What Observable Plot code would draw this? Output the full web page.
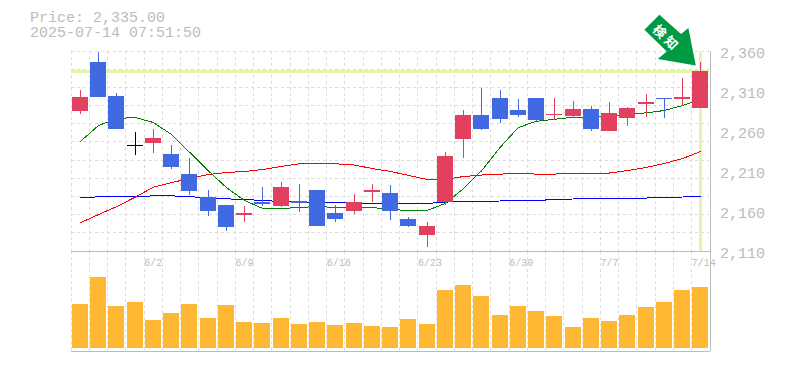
<!DOCTYPE html>
<html>
<head>
<meta charset="utf-8">
<script src="https://cdn.jsdelivr.net/npm/d3@7"></script>
<script src="https://cdn.jsdelivr.net/npm/@observablehq/plot@0.6"></script>
<style>
html,body{margin:0;padding:0;background:#fff;}
#wrap{position:relative;width:785px;height:370px;overflow:hidden;}
#wrap svg{position:absolute;left:0;top:0;}
#head{position:absolute;left:30px;top:11px;font:15px/15px "Liberation Mono",monospace;color:#bcbcbc;white-space:pre;z-index:3;}
</style>
</head>
<body>
<div id="wrap"><div id="head">Price: 2,335.00
2025-07-14 07:51:50</div></div>
<script>
const opens  = [2284.4,2345.6,2303.1,2241.5,2244.4,2230.6,2205.6,2176.9,2166.9,2154.4,2170.6,2165.6,2171.9,2185.6,2156.9,2159.4,2183.1,2181.9,2149.4,2129.4,2170.6,2249.4,2279.4,2300.6,2285.6,2300.6,2279.4,2278.1,2286.9,2259.4,2275.6,2293.1,2300.6,2299.4,2288.1];
const highs  = [2310.6,2358.1,2306.9,2258.1,2261.9,2241.9,2225.6,2185.6,2166.9,2165.6,2189.4,2195.6,2193.1,2185.6,2166.9,2180.6,2193.1,2191.9,2151.9,2145.6,2233.1,2285.6,2313.1,2310.6,2299.4,2300.6,2300.6,2296.9,2290.6,2295.6,2289.4,2305.6,2300.6,2325.6,2345.6];
const lows   = [2280.6,2301.9,2261.9,2229.7,2232.2,2211.9,2179.4,2153.1,2134.4,2145.6,2165.6,2164.4,2158.1,2140.6,2145.6,2155.6,2170.6,2148.1,2139.4,2114.4,2166.9,2225.6,2260.6,2269.4,2276.9,2271.9,2273.1,2275.6,2259.4,2259.4,2265.6,2276.9,2275.6,2290.6,2288.1];
const closes = [2301.9,2301.9,2261.9,2241.5,2250.6,2214.4,2184.4,2159.4,2139.4,2156.9,2168.1,2189.4,2169.4,2140.6,2149.4,2170.6,2185.6,2159.4,2140.6,2140.6,2228.1,2279.4,2261.9,2274.4,2279.4,2273.1,2280.6,2286.9,2261.9,2281.9,2288.1,2295.6,2299.4,2301.9,2335];
const maShort = [2246.9,2266.9,2275.6,2276.9,2270.6,2255.6,2233.1,2210.6,2189.4,2173.1,2163.1,2163.1,2164.4,2165.6,2164.4,2164.4,2164.4,2161.9,2160.6,2160.6,2169.4,2188.1,2210.6,2239.4,2264.4,2272.2,2274.7,2277.2,2277.7,2278.7,2280.6,2282.7,2285.6,2291.9,2299.4];
const maMid = [2145.2,2155.6,2165.6,2177.2,2189.7,2195.6,2200.6,2205.6,2208.1,2209.4,2211.9,2215.6,2219,2219,2219,2217.5,2213.1,2209.4,2204.4,2199.4,2199.4,2203.1,2205,2206.2,2206.5,2206.2,2206.2,2206.9,2207.5,2207.5,2210.6,2214.4,2219.4,2225.6,2234.4];
const maLong = [2176.5,2177.7,2177.7,2177.7,2179,2179,2177.7,2176.9,2175.2,2174.4,2173.1,2171.9,2171.2,2170.6,2170.2,2170,2169.4,2169,2169,2169.4,2171.2,2171.5,2171.9,2172.5,2172.7,2173.1,2174.4,2175,2175.6,2176.2,2176.2,2176.2,2176.9,2177.5,2178.1];
const volumes = [44000,71000,42000,46000,28000,35000,44000,30000,43000,26000,25000,30000,24000,26000,23000,25000,22000,21000,29000,24000,58000,63000,52000,33000,42000,37000,32000,21000,30000,27000,33000,41000,46000,58000,61000];
const dateTicks = [[4,"6/2"],[9,"6/9"],[14,"6/16"],[19,"6/23"],[24,"6/30"],[29,"7/7"],[34,"7/14"]];
const priceTicks = [2110,2160,2210,2260,2310,2360];
const lastPrice = 2335;
const gridCount = 11;

const FONT = '"Liberation Mono",monospace';
const GRAY = "#bcbcbc", GRID = "#dcdcdc", HILITE = "#e2f5aa";
const UP = "#e2405f", DOWN = "#4169e1", VOL = "#ffb833";
const n = opens.length, idx = d3.range(n);
const HALF = 0.44;
const colorOf = i => closes[i] > opens[i] ? UP : closes[i] < opens[i] ? DOWN : "#000";
const crisp = {shapeRendering:"crispEdges"};
const dash = {stroke:GRID, strokeDasharray:"3,3", ...crisp};
const gridX = d3.range(n).map(i => i - 0.5);
const gridY = d3.range(gridCount + 1).map(k => 2110 + 250 * k / gridCount);
const rightEdge = n - 0.47;
const base = {width:785, height:370, marginLeft:70.7, marginRight:75.6,
  style:{background:"transparent", overflow:"visible"}};
const xScale = {domain:[-0.5, n - 0.5], axis:null};

function badge(index, {x, y}) {
  const tx = x(n - 1) - 4.5, ty = y(lastPrice) - 5;
  const g = d3.create("svg:g");
  const shape = [[0,0],[-7.4,-37.4],[-14.7,-31.4],[-36.4,-50.7],[-51.4,-35.7],[-29,-14],[-38,-6.4]];
  g.append("polygon").attr("fill","#009a44").attr("points",shape.map(p=>[tx+p[0],ty+p[1]].join(",")).join(" "));
  [["検",-35.5,-34.5],["知",-24,-23.3]].forEach(([t,dx,dy])=>{
    g.append("text").text(t).attr("fill","#fff").attr("font-family",'"Noto Sans CJK JP"').attr("font-weight","bold")
      .attr("font-size",13).attr("text-anchor","middle").attr("dominant-baseline","central")
      .attr("transform",`translate(${tx+dx},${ty+dy}) rotate(45)`);
  });
  return g.node();
}

const pricePlot = Plot.plot({...base, marginTop:50.5, marginBottom:119.5,
  x:xScale, y:{domain:[2110,2360], label:null},
  marks:[
    Plot.ruleX(gridX, {x:d=>d, ...dash}),
    Plot.ruleY(gridY.slice(1), {y:d=>d, ...dash}),
    Plot.ruleY([lastPrice], {y:d=>d, stroke:HILITE, strokeWidth:3, ...crisp}),
    Plot.ruleX([n - 1], {x:d=>d, stroke:HILITE, strokeWidth:3, ...crisp}),
    Plot.ruleY([2110], {y:d=>d, x1:-0.5, x2:rightEdge, stroke:GRAY, ...crisp}),
    Plot.ruleX([rightEdge], {x:d=>d, stroke:GRAY, ...crisp}),
    Plot.lineY(maLong, {x:(d,i)=>i, y:d=>d, stroke:"#0000ff", strokeWidth:1, curve:"linear", ...crisp}),
    Plot.lineY(maMid, {x:(d,i)=>i, y:d=>d, stroke:"#ff0000", strokeWidth:1, curve:"linear", ...crisp}),
    Plot.lineY(maShort, {x:(d,i)=>i, y:d=>d, stroke:"#008000", strokeWidth:1, curve:"linear", ...crisp}),
    Plot.ruleX(idx, {x:i=>i, y1:i=>lows[i], y2:i=>highs[i], stroke:colorOf, strokeWidth:1, ...crisp}),
    Plot.rect(idx.filter(i=>closes[i]!==opens[i]), {x1:i=>i-HALF, x2:i=>i+HALF,
      y1:i=>Math.min(opens[i],closes[i]), y2:i=>Math.max(opens[i],closes[i]), fill:colorOf, ...crisp}),
    Plot.ruleY(idx.filter(i=>closes[i]===opens[i]), {x1:i=>i-HALF, x2:i=>i+HALF, y:i=>opens[i], stroke:"#000", ...crisp}),
    Plot.axisY(priceTicks, {anchor:"right", tickSize:0, tickPadding:10, dy:2, tickFormat:d3.format(","),
      fontFamily:FONT, fontSize:15, fill:GRAY, label:null, textAnchor:"start"}),
    badge
  ]});

const volumePlot = Plot.plot({...base, marginTop:250.5, marginBottom:19.5,
  x:xScale, y:{domain:[0,97500], range:[348,250.5], axis:null, label:null},
  marks:[
    Plot.ruleX(gridX, {x:d=>d, ...dash}),
    Plot.ruleY([0], {y:()=>0, x1:-0.5, x2:rightEdge, dy:2.5, stroke:GRAY, ...crisp}),
    Plot.rect(idx, {x1:i=>i-HALF, x2:i=>i+HALF, y1:()=>0, y2:i=>volumes[i], fill:VOL, ...crisp}),
    Plot.ruleX([rightEdge], {x:d=>d, stroke:GRAY, ...crisp}),
    Plot.text(dateTicks, {x:d=>d[0]-0.5, y:97500, dy:12, text:d=>d[1], textAnchor:"start",
      fontFamily:FONT, fontSize:10, fill:GRAY})
  ]});

const wrap = document.getElementById("wrap");
wrap.append(volumePlot, pricePlot);
</script>
</body>
</html>
